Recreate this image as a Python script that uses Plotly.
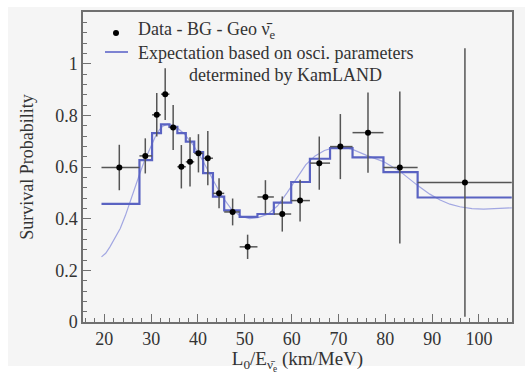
import plotly.graph_objects as go

# Measured survival probability per L0/E bin (data minus backgrounds and geo-neutrinos)
bin_edges = [19.4, 27.5, 30.2, 32.1, 33.9, 35.6, 37.4, 39.2, 41.1, 43.2, 45.6,
             48.9, 52.7, 56.2, 59.9, 63.9, 68.2, 73.0, 79.6, 86.9, 107.0]
data_x = [23.2, 28.75, 31.2, 33.0, 34.7, 36.45, 38.3, 40.1, 42.1, 44.5,
          47.4, 50.6, 54.4, 58.0, 61.8, 65.9, 70.4, 76.3, 83.1, 97.0]
data_y = [0.598, 0.643, 0.802, 0.882, 0.753, 0.601, 0.620, 0.653, 0.634, 0.498,
          0.426, 0.291, 0.484, 0.418, 0.470, 0.615, 0.679, 0.733, 0.598, 0.540]
data_err = [0.088, 0.068, 0.084, 0.100, 0.087, 0.084, 0.095, 0.074, 0.105, 0.058,
            0.052, 0.047, 0.065, 0.068, 0.081, 0.103, 0.126, 0.155, 0.294, 0.520]

# Expected survival probability, binned like the data
expected_hist = [0.457, 0.627, 0.731, 0.765, 0.755, 0.731, 0.698, 0.658, 0.576, 0.485,
                 0.432, 0.407, 0.418, 0.462, 0.542, 0.632, 0.673, 0.637, 0.580, 0.482]

# Unbinned expectation curve
curve_x = [19.4, 20.3, 21.2, 22.3, 23.4, 24.5, 25.5, 26.5, 27.6, 28.5, 29.5, 30.2, 31.0,
           31.8, 32.5, 33.5, 35.0, 37.0, 39.0, 41.0, 43.0, 45.0, 47.0, 49.0, 51.0, 53.0,
           55.0, 57.0, 59.0, 61.0, 63.0, 65.0, 67.0, 69.0, 71.0, 73.0, 76.0, 79.6, 83.0,
           87.0, 89.5, 91.7, 93.8, 95.9, 98.5, 101.0, 104.0, 107.0]
curve_y = [0.252, 0.266, 0.291, 0.325, 0.362, 0.412, 0.466, 0.522, 0.576, 0.620, 0.660, 0.690, 0.722,
           0.745, 0.758, 0.766, 0.760, 0.730, 0.685, 0.625, 0.555, 0.490, 0.440, 0.410, 0.400, 0.405,
           0.418, 0.450, 0.500, 0.555, 0.608, 0.643, 0.664, 0.675, 0.678, 0.668, 0.645, 0.621, 0.585,
           0.527, 0.495, 0.472, 0.456, 0.446, 0.439, 0.437, 0.439, 0.442]

x_ticks = [20, 30, 40, 50, 60, 70, 80, 90, 100]
y_ticks = [0, 0.2, 0.4, 0.6, 0.8, 1]

FONT = "Liberation Serif, Times New Roman, Times, serif"
TEXT = "#333333"
BLUE = "#5a63c2"
LIGHT_BLUE = "#a2a7e2"
FRAME = "#707070"

err_plus = [bin_edges[i + 1] - x for i, x in enumerate(data_x)]
err_minus = [x - bin_edges[i] for i, x in enumerate(data_x)]

fig = go.Figure()

fig.add_trace(go.Scatter(
    x=curve_x, y=curve_y, mode="lines", line=dict(color=LIGHT_BLUE, width=1.2),
    hoverinfo="skip", showlegend=False))

fig.add_trace(go.Scatter(
    x=bin_edges, y=expected_hist + [expected_hist[-1]], mode="lines",
    line=dict(color=BLUE, width=2.2, shape="hv"), showlegend=False))

fig.add_trace(go.Scatter(
    x=data_x, y=data_y, mode="markers",
    marker=dict(color="black", size=6),
    error_y=dict(type="data", array=data_err, color="#555555", thickness=1.5, width=0),
    error_x=dict(type="data", array=err_plus, arrayminus=err_minus, symmetric=False,
                 color="#555555", thickness=1.5, width=0),
    showlegend=False))

L, R, T, B = 83, 13, 12, 52
W, H = 525, 374
pw, ph = W - L - R, H - T - B


def px(xp):
    return (xp - L) / pw


def py(yp):
    return (H - B - yp) / ph


shapes = [
    # page panel
    dict(type="rect", xref="paper", yref="paper", x0=px(8), x1=px(525), y0=py(366), y1=py(7),
         fillcolor="#f5f5f5", line=dict(width=0), layer="below"),
    # legend symbols
    dict(type="circle", xref="paper", yref="paper", x0=px(113), x1=px(119), y0=py(36), y1=py(30),
         fillcolor="black", line=dict(width=0)),
    dict(type="line", xref="paper", yref="paper", x0=px(105), x1=px(128), y0=py(52), y1=py(52),
         line=dict(color="#7d83d2", width=2)),
]

annotations = [
    dict(text="Data - BG - Geo ν̄<sub>e</sub>", x=px(136), y=py(30), xanchor="left", yanchor="middle"),
    dict(text="Expectation based on osci. parameters", x=px(136), y=py(53), xanchor="left", yanchor="middle"),
    dict(text="determined by KamLAND", x=px(187), y=py(75), xanchor="left", yanchor="middle"),
]
for a in annotations:
    a.update(xref="paper", yref="paper", showarrow=False,
             font=dict(family=FONT, size=18, color=TEXT))

fig.update_layout(
    width=W, height=H, margin=dict(l=L, r=R, t=T, b=B, autoexpand=False),
    paper_bgcolor="white", plot_bgcolor="#f5f5f5",
    font=dict(family=FONT, size=18, color=TEXT),
    shapes=shapes, annotations=annotations, showlegend=False,
)

fig.update_xaxes(
    range=[15.45, 107.05], tickvals=x_ticks, ticks="inside", ticklen=8, tickwidth=1,
    tickcolor=FRAME, showline=True, linecolor=FRAME, linewidth=1.5, mirror=True,
    showgrid=False, zeroline=False, automargin=False,
    minor=dict(dtick=2, tick0=0, ticks="inside", ticklen=4, tickcolor=FRAME, showgrid=False),
    title=dict(text="L<sub>0</sub>/E<sub>ν̄<sub>e</sub></sub> (km/MeV)", standoff=9,
               font=dict(family=FONT, size=19, color=TEXT)),
    tickfont=dict(family=FONT, size=18, color=TEXT),
)
fig.update_yaxes(
    range=[0, 1.2], tickvals=y_ticks, ticktext=["0", "0.2", "0.4", "0.6", "0.8", "1"],
    ticks="inside", ticklen=8, tickwidth=1,
    tickcolor=FRAME, showline=True, linecolor=FRAME, linewidth=1.5, mirror=True,
    showgrid=False, zeroline=False, automargin=False,
    minor=dict(dtick=0.04, tick0=0, ticks="inside", ticklen=4, tickcolor=FRAME, showgrid=False),
    title=dict(text="Survival Probability", standoff=17,
               font=dict(family=FONT, size=18, color=TEXT)),
    tickfont=dict(family=FONT, size=18, color=TEXT),
)

fig.write_html("out.html")
